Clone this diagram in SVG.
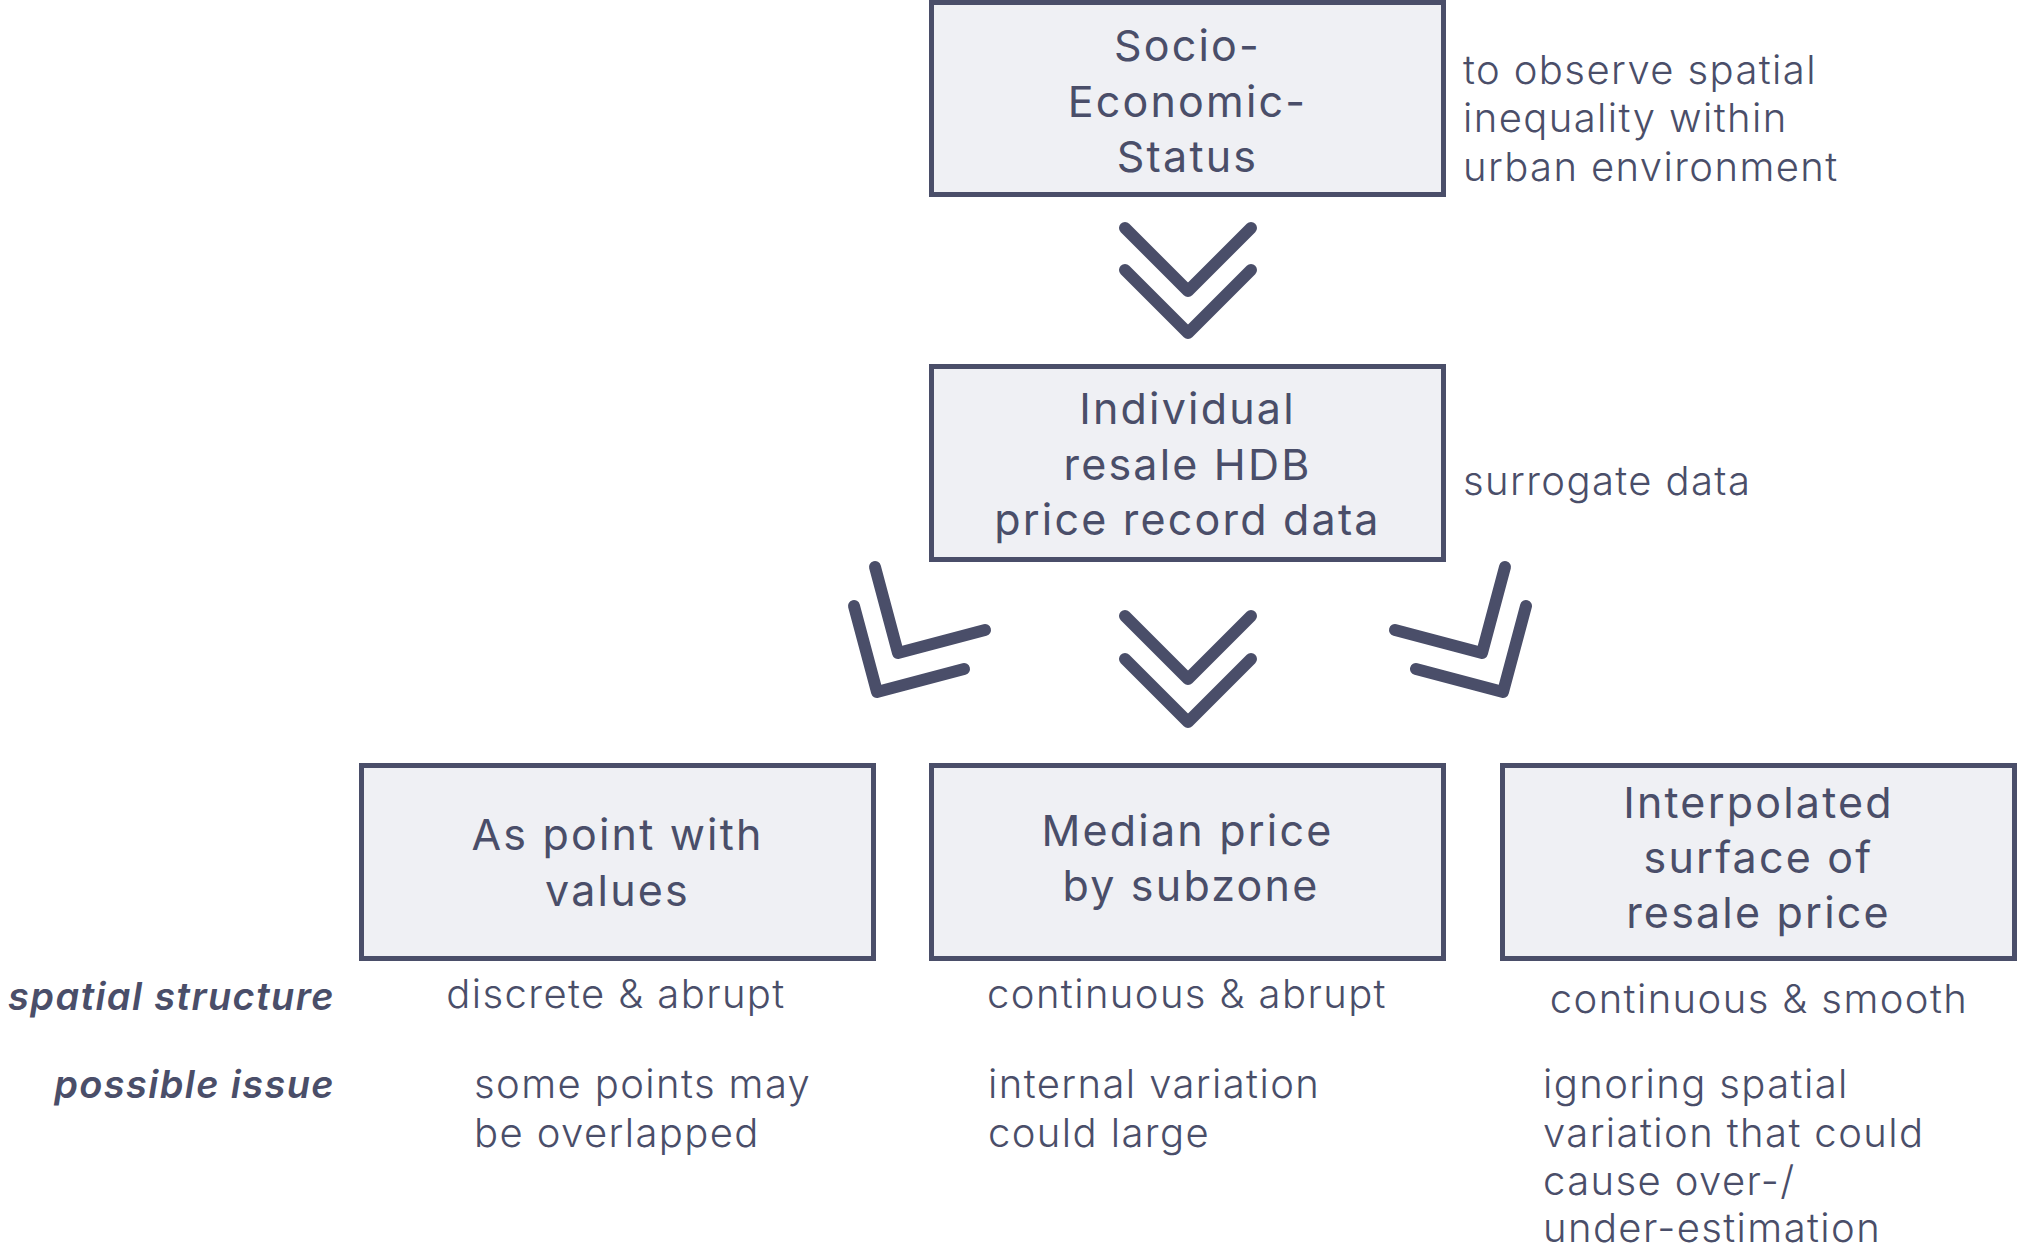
<svg xmlns="http://www.w3.org/2000/svg" width="2018" height="1246" viewBox="0 0 2018 1246">
<style>
.box{fill:#eff0f4;stroke:#4a4e69;stroke-width:5}
.bt{font-family:Inter,"Noto Sans",sans-serif;font-size:43px;font-weight:400;fill:#4a4e69;text-anchor:middle;letter-spacing:2.2px}
.lt{font-family:Inter,"Noto Sans",sans-serif;font-size:40px;font-weight:300;fill:#4a4e69;letter-spacing:1.4px}
.c{text-anchor:middle}
.lab{font-family:Inter,"Noto Sans",sans-serif;font-size:38px;font-weight:600;font-style:italic;fill:#4a4e69;text-anchor:end;letter-spacing:1.4px}
.chev{fill:none;stroke:#4a4e69;stroke-width:12;stroke-linecap:round;stroke-linejoin:round}
</style>
<rect width="2018" height="1246" fill="#ffffff"/>
<g id="node-ses">
<rect class="box" x="931.5" y="2.5" width="512" height="192"/>
<text class="bt" x="1187.5" y="61">Socio-</text>
<text class="bt" x="1187.5" y="117">Economic-</text>
<text class="bt" x="1187.5" y="172">Status</text>
</g>
<g id="note-ses"><text class="lt" x="1463" y="84">to observe spatial</text><text class="lt" x="1463" y="132">inequality within</text><text class="lt" x="1463" y="181">urban environment</text></g>
<g id="node-hdb">
<rect class="box" x="931.5" y="366.5" width="512" height="193"/>
<text class="bt" x="1187.5" y="424">Individual</text>
<text class="bt" x="1187.5" y="480">resale HDB</text>
<text class="bt" x="1187.5" y="535">price record data</text>
</g>
<g id="note-hdb"><text class="lt" x="1463" y="495">surrogate data</text></g>
<g id="node-point">
<rect class="box" x="361.5" y="765.5" width="512" height="193"/>
<text class="bt" x="617.5" y="850">As point with</text>
<text class="bt" x="617.5" y="906">values</text>
</g>
<g id="node-median">
<rect class="box" x="931.5" y="765.5" width="512" height="193"/>
<text class="bt" x="1187.5" y="846">Median price</text>
<text class="bt" x="1191" y="901">by subzone</text>
</g>
<g id="node-interp">
<rect class="box" x="1502.5" y="765.5" width="512" height="193"/>
<text class="bt" x="1758.5" y="818">Interpolated</text>
<text class="bt" x="1758.5" y="873">surface of</text>
<text class="bt" x="1758.5" y="928">resale price</text>
</g>
<g id="row-labels">
<text class="lab" x="335" y="1010">spatial structure</text>
<text class="lab" x="335" y="1098">possible issue</text>
</g>
<g id="row-structure">
<text class="lt c" x="616" y="1008">discrete &amp; abrupt</text>
<text class="lt c" x="1187" y="1008">continuous &amp; abrupt</text>
<text class="lt c" x="1759" y="1013">continuous &amp; smooth</text>
</g>
<g id="row-issue">
<text class="lt" x="474" y="1098">some points may</text>
<text class="lt" x="474" y="1147">be overlapped</text>
<text class="lt" x="988" y="1098">internal variation</text>
<text class="lt" x="988" y="1147">could large</text>
<text class="lt" x="1543" y="1098">ignoring spatial</text>
<text class="lt" x="1543" y="1147">variation that could</text>
<text class="lt" x="1543" y="1195">cause over-/</text>
<text class="lt" x="1543" y="1242">under-estimation</text>
</g>
<g id="connectors">
<polyline class="chev" points="1125,228 1188,291 1251,228"/>
<polyline class="chev" points="1125,270 1188,333 1251,270"/>
<polyline class="chev" points="1125,616 1188,679 1251,616"/>
<polyline class="chev" points="1125,659 1188,722 1251,659"/>
<polyline class="chev" points="875,567 898,653 985,630"/>
<polyline class="chev" points="854,606 877,692 964,669"/>
<polyline class="chev" points="1505,567 1482,653 1395,630"/>
<polyline class="chev" points="1526,606 1503,692 1416,669"/>
</g>
</svg>
